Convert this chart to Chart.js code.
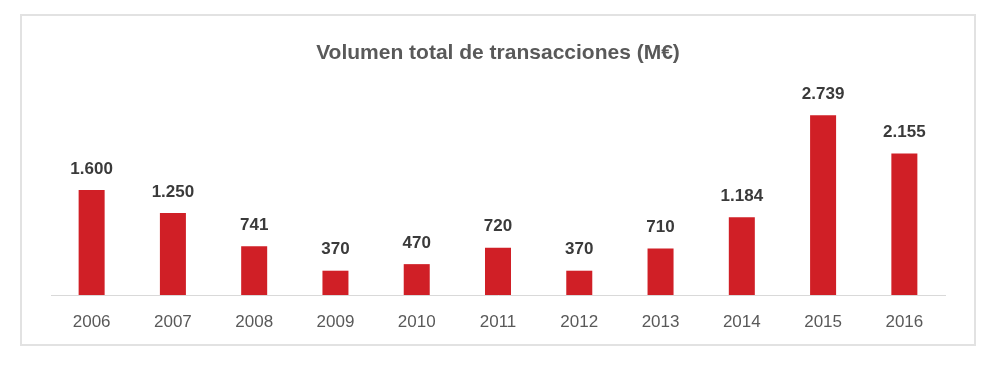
<!DOCTYPE html>
<html>
<head>
<meta charset="utf-8">
<script src="https://cdn.jsdelivr.net/npm/chart.js@4/dist/chart.umd.min.js"></script>
<style>
  html, body { margin: 0; padding: 0; background: #ffffff; }
  #wrap { position: relative; width: 987px; height: 369px; overflow: hidden; }
  #box { position: absolute; left: 20px; top: 14px; width: 956px; height: 332px; border: 2px solid #e2e2e2; box-sizing: border-box; }
  #c { position: absolute; left: 0; top: 0; }
</style>
</head>
<body>
<div id="wrap">
  <div id="box"></div>
  <canvas id="c" width="987" height="369"></canvas>
</div>
<script>
const titleText = 'Volumen total de transacciones (M€)';
const years = ['2006','2007','2008','2009','2010','2011','2012','2013','2014','2015','2016'];
const volumes = [1600, 1250, 741, 370, 470, 720, 370, 710, 1184, 2739, 2155];

function fmt(v) {
  return String(v).replace(/\B(?=(\d{3})+(?!\d))/g, '.');
}

const valueLabels = {
  id: 'valueLabels',
  afterDatasetsDraw(chart) {
    const ctx = chart.ctx;
    const meta = chart.getDatasetMeta(0);
    ctx.save();
    ctx.font = 'bold 17px "Liberation Sans", Arial, sans-serif';
    ctx.fillStyle = '#3a3a3a';
    ctx.textAlign = 'center';
    ctx.textBaseline = 'middle';
    meta.data.forEach((bar, i) => {
      ctx.fillText(fmt(volumes[i]), bar.x, bar.y - 21);
    });
    ctx.restore();
  }
};

new Chart(document.getElementById('c'), {
  type: 'bar',
  data: {
    labels: years,
    datasets: [{
      data: volumes,
      backgroundColor: '#d01f26',
      borderWidth: 0,
      barPercentage: 0.32,
      categoryPercentage: 1.0
    }]
  },
  options: {
    responsive: false,
    animation: false,
    events: [],
    layout: { padding: { left: 51, right: 42, top: 0, bottom: 0 } },
    plugins: {
      legend: { display: false },
      tooltip: { enabled: false },
      title: {
        display: true,
        text: titleText,
        color: '#595959',
        font: { family: '"Liberation Sans", Arial, sans-serif', size: 21, weight: 'bold', lineHeight: 1.2 },
        padding: { top: 40.4, bottom: 32.4 }
      }
    },
    scales: {
      y: {
        display: false,
        min: 0,
        max: 3000
      },
      x: {
        grid: { display: false, drawTicks: false },
        border: { display: true, color: '#d9d9d9', width: 1 },
        ticks: {
          color: '#595959',
          font: { family: '"Liberation Sans", Arial, sans-serif', size: 17 },
          padding: 17
        },
        afterFit(scale) { scale.height = 74; }
      }
    }
  },
  plugins: [valueLabels]
});
</script>
</body>
</html>
